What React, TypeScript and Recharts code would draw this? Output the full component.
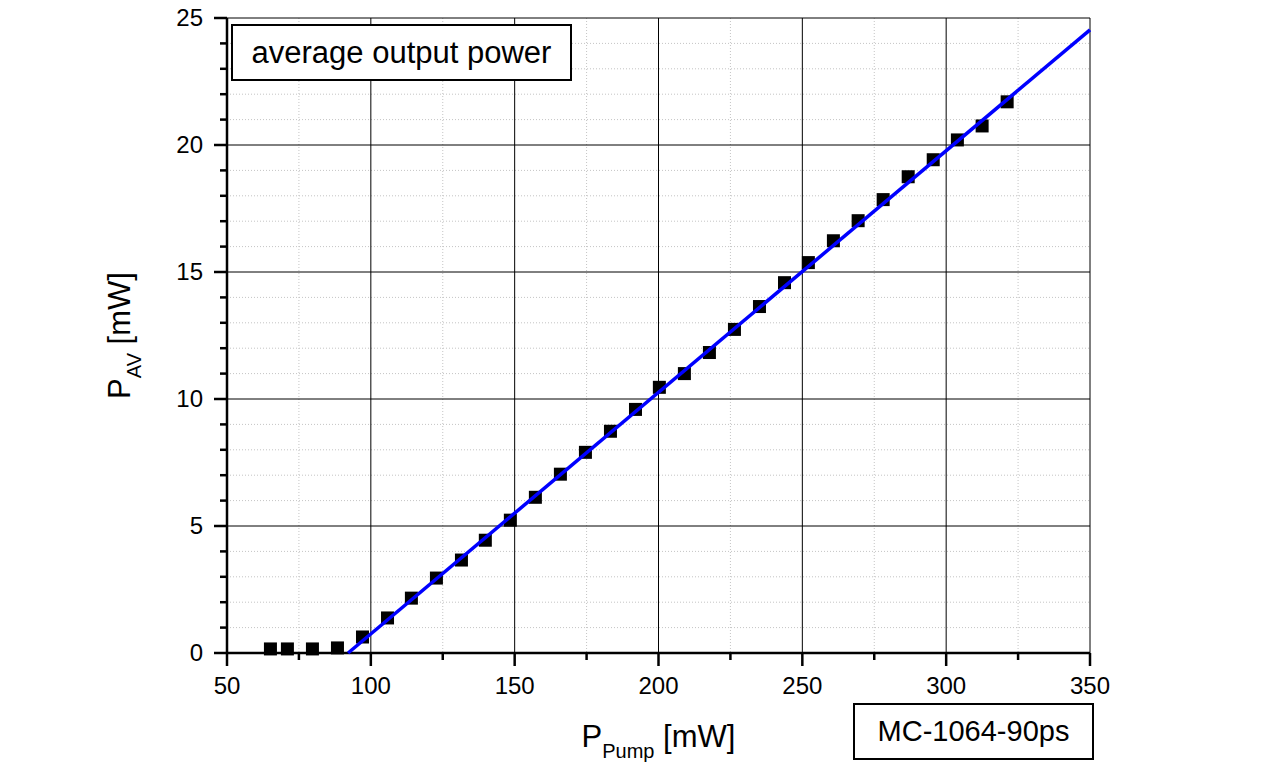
import React from 'react';
import { ComposedChart, Scatter, Line, XAxis, YAxis, CartesianGrid } from 'recharts';

// Measured data: pump power [mW] vs average output power [mW]
const pumpPower = [
  65.1, 71.0, 79.7, 88.4, 97.1, 105.8, 114.1, 122.8, 131.5, 139.8,
  148.5, 157.2, 165.9, 174.6, 183.3, 192.0, 200.3, 209.0, 217.7, 226.4,
  235.1, 243.8, 252.1, 260.8, 269.4, 278.1, 286.8, 295.5, 303.9, 312.5, 321.2,
];
const avgPower = [
  0.16, 0.16, 0.16, 0.2, 0.63, 1.38, 2.16, 2.95, 3.66, 4.44,
  5.23, 6.13, 7.04, 7.9, 8.73, 9.59, 10.46, 11.0, 11.83, 12.74,
  13.64, 14.58, 15.37, 16.23, 17.02, 17.85, 18.75, 19.42, 20.2, 20.75, 21.7,
];

// Linear fit line end points
const fitPump = [92.1, 350];
const fitPower = [0, 24.53];

// Axis ticks
const xDomain = [50, 350];
const yDomain = [0, 25];
const xMajor = [50, 100, 150, 200, 250, 300, 350];
const xMinor = [75, 125, 175, 225, 275, 325];
const xTicksAll = [50, 75, 100, 125, 150, 175, 200, 225, 250, 275, 300, 325, 350];
const yMajor = [0, 5, 10, 15, 20, 25];
const yMinor = [1, 2, 3, 4, 6, 7, 8, 9, 11, 12, 13, 14, 16, 17, 18, 19, 21, 22, 23, 24];
const yTicksAll = [0, 1, 2, 3, 4, 5, 6, 7, 8, 9, 10, 11, 12, 13, 14, 15, 16, 17, 18, 19, 20, 21, 22, 23, 24, 25];

const points = pumpPower.map((x, i) => ({ x, y: avgPower[i] }));
const fit = fitPump.map((x, i) => ({ x, y: fitPower[i] }));

const FONT = '"Liberation Sans", Arial, Helvetica, sans-serif';

const scaleOf = (axis: any) => {
  if (!axis || !axis.scale) return null;
  const s = axis.scale;
  if (typeof s === 'function') return s;
  if (typeof s.map === 'function') return (v: number) => s.map(v);
  return null;
};

const genX = (vals: number[]) => (args: any) => {
  const s = scaleOf(args && args.xAxis);
  if (!s) return [];
  return vals.map((v) => s(v)).filter((c: any) => typeof c === 'number' && !isNaN(c));
};
const genY = (vals: number[]) => (args: any) => {
  const s = scaleOf(args && args.yAxis);
  if (!s) return [];
  return vals.map((v) => s(v)).filter((c: any) => typeof c === 'number' && !isNaN(c));
};

const SquareShape = (props: any) => {
  const { cx, cy } = props;
  if (cx == null || cy == null) return null;
  return <rect x={cx - 6.5} y={cy - 6.5} width={13} height={13} fill="#000" />;
};

const XTick = (props: any) => {
  const { x, y, payload } = props;
  const major = xMajor.includes(payload.value);
  const len = major ? 13 : 7;
  return (
    <g>
      <line x1={x} y1={y} x2={x} y2={y + len} stroke="#000" strokeWidth={2.5} />
      {major && (
        <text x={x} y={y + 41} textAnchor="middle" fontSize={24} fontFamily={FONT} fill="#000">
          {payload.value}
        </text>
      )}
    </g>
  );
};

const YTick = (props: any) => {
  const { x, y, payload } = props;
  const major = yMajor.includes(payload.value);
  const len = major ? 13 : 7;
  return (
    <g>
      <line x1={x} y1={y} x2={x - len} y2={y} stroke="#000" strokeWidth={2.5} />
      {major && (
        <text x={x - 24} y={y} dy="0.35em" textAnchor="end" fontSize={24} fontFamily={FONT} fill="#000">
          {payload.value}
        </text>
      )}
    </g>
  );
};

const XLabel = (props: any) => {
  const vb = props.viewBox || {};
  const cx = vb.x + vb.width / 2;
  return (
    <text x={cx} y={747} textAnchor="middle" fontFamily={FONT} fontSize={31} fill="#000">
      P
      <tspan fontSize={20} dy={11}>Pump</tspan>
      <tspan fontSize={31} dy={-11}> [mW]</tspan>
    </text>
  );
};

const YLabel = (props: any) => {
  const vb = props.viewBox || {};
  const cy = vb.y + vb.height / 2;
  return (
    <text
      transform={`translate(130, ${cy}) rotate(-90)`}
      textAnchor="middle"
      fontFamily={FONT}
      fontSize={31}
      fill="#000"
    >
      P
      <tspan fontSize={20} dy={11}>AV</tspan>
      <tspan fontSize={31} dy={-11}> [mW]</tspan>
    </text>
  );
};

const boxStyle: React.CSSProperties = {
  position: 'absolute',
  boxSizing: 'border-box',
  border: '2px solid #000',
  background: '#fff',
  display: 'flex',
  alignItems: 'center',
  justifyContent: 'center',
  fontFamily: FONT,
  color: '#000',
  whiteSpace: 'nowrap',
};

export default function App() {
  return (
    <div style={{ position: 'absolute', left: 0, top: 0, width: 1266, height: 777, background: '#fff' }}>
      <ComposedChart
        width={1266}
        height={777}
        margin={{ top: 18, right: 176, bottom: 84, left: 167 }}
      >
        <CartesianGrid
          stroke="#c4c4c4"
          strokeDasharray="1 2"
          strokeWidth={1}
          verticalCoordinatesGenerator={genX(xMinor)}
          horizontalCoordinatesGenerator={genY(yMinor)}
        />
        <CartesianGrid
          stroke="#000"
          strokeWidth={1}
          verticalCoordinatesGenerator={genX(xMajor)}
          horizontalCoordinatesGenerator={genY(yMajor)}
        />

        <XAxis
          dataKey="x"
          type="number"
          domain={xDomain}
          ticks={xTicksAll}
          interval={0}
          tickSize={0}
          tickMargin={0}
          tickLine={false}
          tick={<XTick />}
          axisLine={{ stroke: '#000', strokeWidth: 2.5 }}
          height={40}
          label={{ content: XLabel }}
        />
        <YAxis
          dataKey="y"
          type="number"
          domain={yDomain}
          ticks={yTicksAll}
          interval={0}
          tickSize={0}
          tickMargin={0}
          tickLine={false}
          tick={<YTick />}
          axisLine={{ stroke: '#000', strokeWidth: 2.5 }}
          width={60}
          label={{ content: YLabel }}
        />
        <XAxis
          xAxisId="top"
          orientation="top"
          type="number"
          domain={xDomain}
          tick={false}
          tickLine={false}
          height={0}
          axisLine={{ stroke: '#000', strokeWidth: 2.5 }}
        />
        <YAxis
          yAxisId="right"
          orientation="right"
          type="number"
          domain={yDomain}
          tick={false}
          tickLine={false}
          width={0}
          axisLine={{ stroke: '#000', strokeWidth: 2.5 }}
        />

        <Scatter data={points} dataKey="y" fill="#000" shape={SquareShape} isAnimationActive={false} />
        <Line
          data={fit}
          dataKey="y"
          type="linear"
          stroke="#0000ff"
          strokeWidth={3.5}
          dot={false}
          activeDot={false}
          isAnimationActive={false}
          zIndex={700}
        />
      </ComposedChart>

      <div style={{ ...boxStyle, left: 231, top: 24, width: 341, height: 57, fontSize: 31 }}>
        average output power
      </div>
      <div style={{ ...boxStyle, left: 853, top: 703, width: 241, height: 57, fontSize: 29 }}>
        MC-1064-90ps
      </div>
    </div>
  );
}
